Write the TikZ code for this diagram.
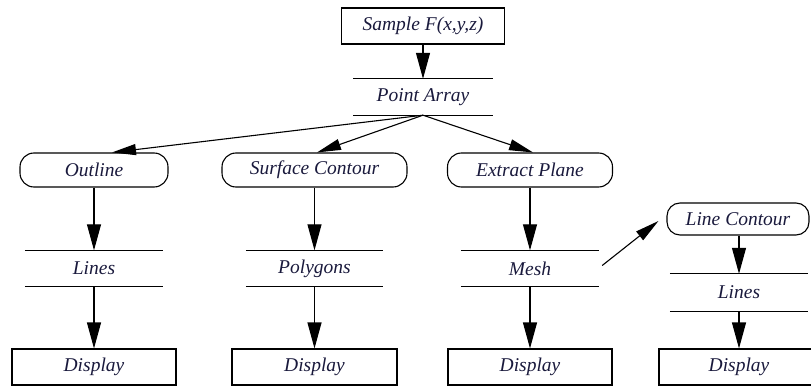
\documentclass[tikz,border=0pt]{standalone}
\usepackage{fontspec}
\setmainfont{Liberation Serif}
\usetikzlibrary{arrows.meta}
\definecolor{txt}{RGB}{25,25,60}
\begin{document}
\begin{tikzpicture}[x=1pt,y=-1pt,
  every node/.style={font=\fontsize{19.5}{22}\selectfont\itshape, text=txt, inner sep=0pt},
  boxnode/.style={draw, line width=1.1pt, minimum height=36pt},
  roundnode/.style={draw, line width=1.1pt, rounded corners=14pt, minimum height=34pt},
  storenode/.style={minimum height=36pt},
  flow/.style={line width=1.1pt, -{Triangle[length=26pt,width=14pt]}},
  slant/.style={line width=1.1pt, -{Triangle[length=24pt,width=11pt]}},
  rule/.style={line width=1.1pt}
]
\useasboundingbox (0,0) rectangle (811,387);

% top
\node[boxnode, minimum width=163pt] (sample) at (423,26) {Sample F(x,y,z)};
\node[storenode, minimum width=139pt] (pa) at (423,97) {Point Array};

% second row
\node[roundnode, minimum width=148pt] (outline) at (94,170) {Outline};
\node[roundnode, minimum width=185pt] (surf) at (314.5,170) {Surface Contour};
\node[roundnode, minimum width=165pt] (extr) at (530,170) {Extract Plane};
\node[roundnode, minimum width=142pt, minimum height=32pt, rounded corners=13pt] (lc) at (738,219) {Line Contour};

% data rows
\node[storenode, minimum width=138pt] (lines1) at (94,268.5) {Lines};
\node[storenode, minimum width=137pt] (poly) at (314.5,268.5) {Polygons};
\node[storenode, minimum width=138pt] (mesh) at (530,268.5) {Mesh};
\node[storenode, minimum width=138pt, minimum height=37pt] (lines4) at (739,292.5) {Lines};

% displays
\node[boxnode, minimum width=164pt] (d1) at (94,367) {Display};
\node[boxnode, minimum width=165pt] (d2) at (314.5,367) {Display};
\node[boxnode, minimum width=164pt] (d3) at (530,367) {Display};
\node[boxnode, minimum width=160pt] (d4) at (739,367) {Display};

% rules of the store nodes
\foreach \n in {pa,lines1,poly,mesh,lines4}{
  \draw[rule] (\n.north west) -- (\n.north east);
  \draw[rule] (\n.south west) -- (\n.south east);
}

% connectors
\draw[flow] (sample.south) -- (pa.north);
\draw[slant] (pa.south) -- ([xshift=18pt]outline.north);
\draw[slant] (pa.south) -- ([xshift=2.5pt]surf.north);
\draw[slant] (pa.south) -- ([xshift=3pt]extr.north);

\draw[flow] (outline.south) -- (lines1.north);
\draw[flow] (surf.south) -- (poly.north);
\draw[flow] (extr.south) -- (mesh.north);
\draw[flow] ([xshift=1pt]lc.south) -- (lines4.north);

\draw[flow] (lines1.south) -- (d1.north);
\draw[flow] (poly.south) -- (d2.north);
\draw[flow] (mesh.south) -- (d3.north);
\draw[flow] (lines4.south) -- (d4.north);

\draw[slant] ([xshift=3pt,yshift=3pt]mesh.east) -- ([xshift=-8pt,yshift=-2pt]lc.west);
\end{tikzpicture}
\end{document}
